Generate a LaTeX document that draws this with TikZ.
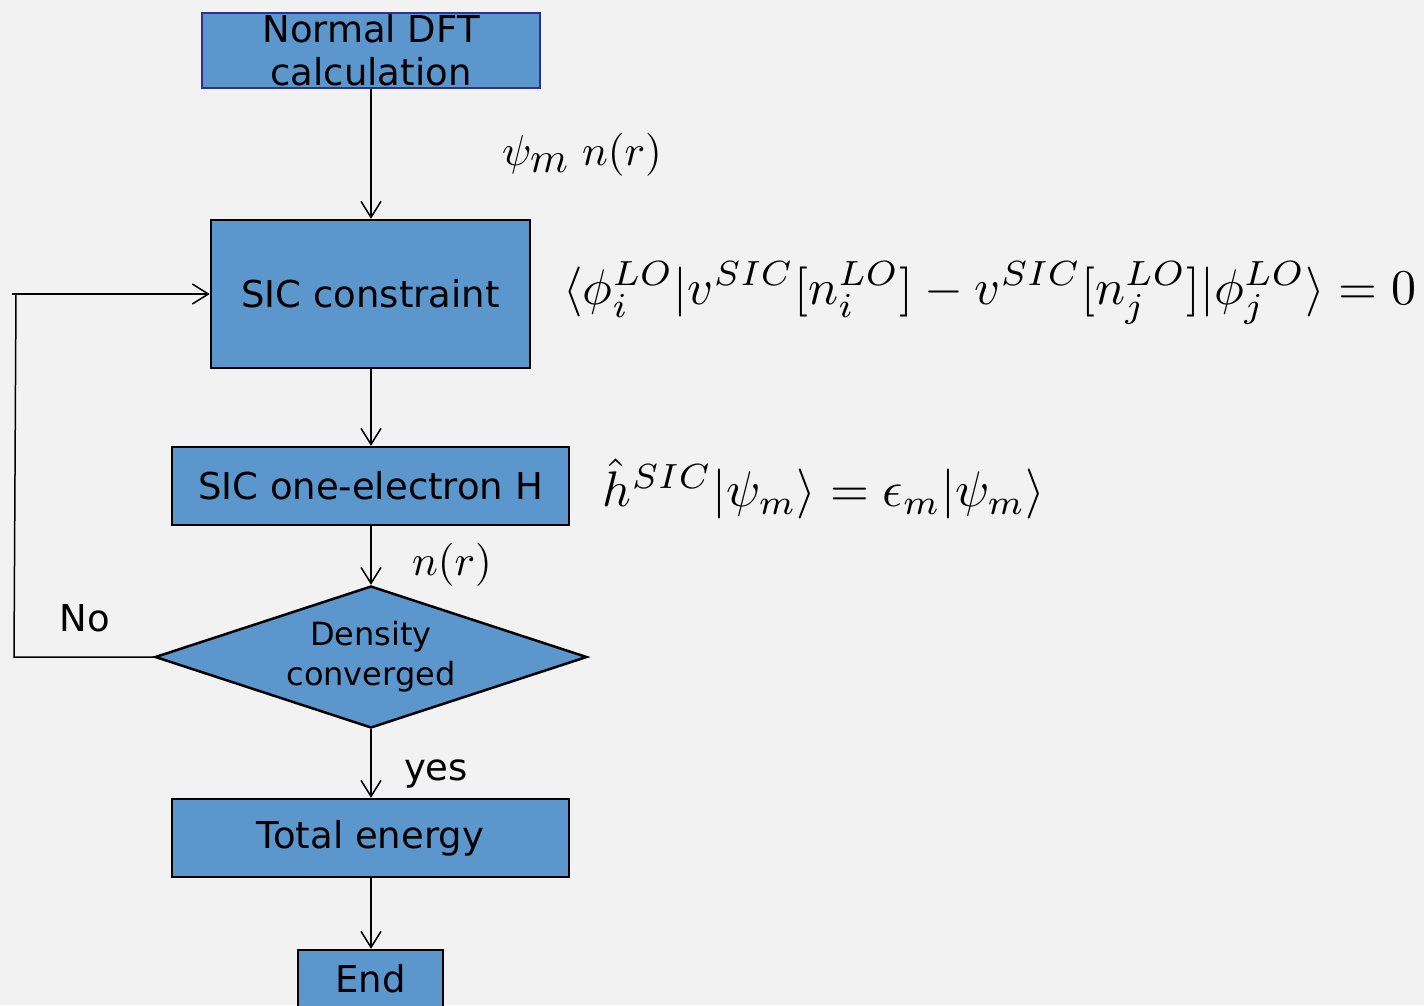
\documentclass[tikz,border=0pt]{standalone}
\usepackage{fontspec}
\setsansfont{DejaVu Sans}
\usetikzlibrary{shapes.geometric,arrows.meta}
\definecolor{bg}{HTML}{F2F2F2}
\definecolor{boxblue}{HTML}{5B96CD}
\definecolor{navy}{HTML}{2E3192}
\begin{document}
\begin{tikzpicture}[x=1pt,y=-1pt,
  box/.style={draw=black, line width=2.5pt, fill=boxblue, inner sep=0pt,
    font=\sffamily\fontsize{37}{43}\selectfont, align=center},
  decision/.style={diamond, shape aspect=3, draw=black, line width=2.5pt, fill=boxblue, inner sep=0pt,
    font=\sffamily\fontsize{32}{40}\selectfont, align=center},
  conn/.style={line width=1.5pt, draw=black},
  arr/.style={conn, -{Straight Barb[length=16pt, width=20pt, line width=1.5pt]}},
  lbl/.style={font=\sffamily\fontsize{37}{43}\selectfont, inner sep=0pt},
  mathlbl/.style={inner sep=0pt}]
\clip (0,0) rectangle (1424,1005);
\fill[bg] (0,0) rectangle (1424,1005);
\useasboundingbox (0,0) rectangle (1424,1005);

\node[box, draw=navy, minimum width=338, minimum height=75] (dft) at (371,50.5) {Normal DFT\\calculation};
\node[box, minimum width=319, minimum height=148] (sic) at (370.5,294) {SIC constraint};
\node[box, minimum width=397, minimum height=78] (ham) at (370.5,486) {SIC one-electron H};
\node[decision, minimum width=432, minimum height=142] (dec) at (371,657) {Density\\converged};
\node[box, minimum width=397, minimum height=78] (tot) at (370.5,838) {Total energy};
\node[box, minimum width=145, minimum height=58] (end) at (370.5,979) {End};

\draw[arr] (dft.south) -- (sic.north -| dft.south);
\draw[arr] (sic.south -| dft.south) -- (ham.north -| dft.south);
\draw[arr] (ham.south -| dec.north) -- (dec.north);
\draw[arr] (dec.south) -- (tot.north -| dec.south);
\draw[arr] (tot.south -| dec.south) -- (end.north -| dec.south);

\coordinate (lb) at (14,657);
\coordinate (lt) at (16,294);
\coordinate (ls) at (12,294);
\draw[conn] (dec.west) -- (lb) -- (lt);
\draw[arr] (ls) -- (sic.west);

\node[mathlbl] (lab1) at (582,155) {\scalebox{4.3}{$\psi_{\textstyle m}\; n(r)$}};
\node[mathlbl] (lab2) at (452,565) {\scalebox{4.3}{$n(r)$}};
\node[mathlbl] (eq1) at (990,293) {\scalebox{5.0}{$\langle\phi_i^{LO}|v^{SIC}[n_i^{LO}]-v^{SIC}[n_j^{LO}]|\phi_j^{LO}\rangle=0$}};
\node[mathlbl] (eq2) at (824,489) {\scalebox{5.0}{$\hat{h}^{SIC}|\psi_m\rangle=\epsilon_m|\psi_m\rangle$}};
\node[lbl] (no) at (85,618) {No};
\node[lbl] (yes) at (436,774) {yes};
\end{tikzpicture}
\end{document}
